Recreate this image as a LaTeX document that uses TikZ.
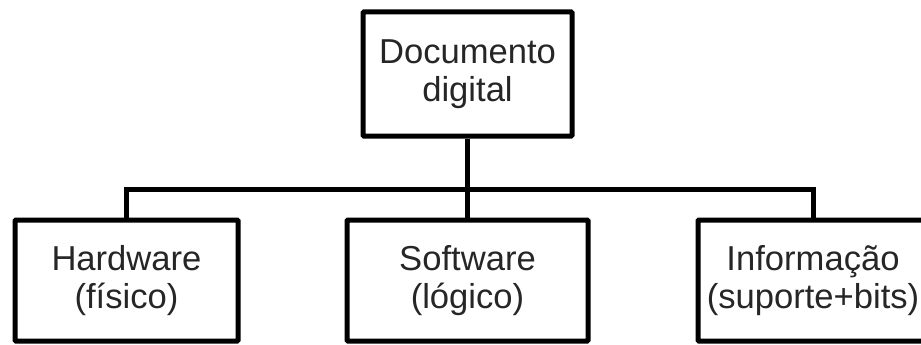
\documentclass[tikz,border=0pt]{standalone}
\usepackage{fontspec}
\setmainfont{Liberation Sans}
\begin{document}
\begin{tikzpicture}[x=1pt,y=-1pt,
  box/.style={draw=black,line width=5pt,rounded corners=1pt,align=center,
    inner sep=0pt,text=black!85,
    font=\fontsize{34.6}{38}\selectfont},
  link/.style={draw=black,line width=5pt}]
\useasboundingbox (0,0) rectangle (921,345);
\clip (0,0) rectangle (921,345);
\node[box,minimum width=209pt,minimum height=124pt] (doc) at (467.5,74) {Documento\\digital};
\node[box,minimum width=223pt,minimum height=121pt] (hw) at (126.5,280.5) {Hardware\\(físico)};
\node[box,minimum width=241pt,minimum height=121pt] (sw) at (467.5,280.5) {Software\\(lógico)};
\node[box,minimum width=230pt,minimum height=121pt] (inf) at (813,280.5) {Informação\\(suporte+bits)};
\coordinate (j) at (467.5,189);
\draw[link] (doc.south) -- (sw.north);
\draw[link] (hw.north) |- (j) -| (inf.north);
\end{tikzpicture}
\end{document}
